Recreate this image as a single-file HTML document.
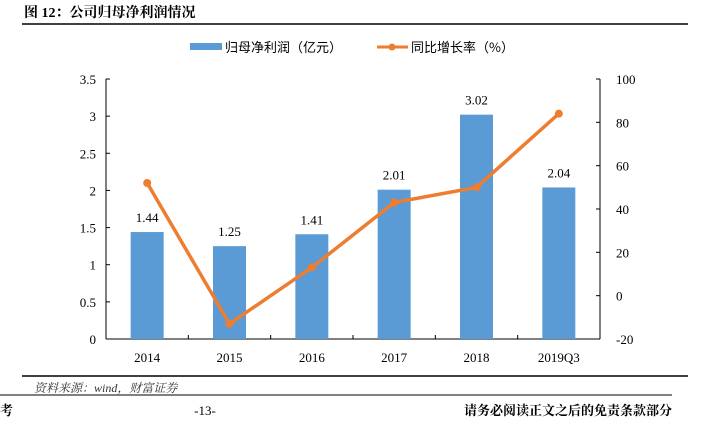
<!DOCTYPE html>
<html><head><meta charset="utf-8"><style>
body{margin:0;width:701px;height:419px;background:#fff;overflow:hidden;font-family:"Liberation Serif","Noto Serif CJK SC",serif}
</style></head><body>
<svg width="701" height="419">
<text x="24" y="17" font-size="14" font-weight="bold" font-family="Liberation Serif, Noto Serif CJK SC, serif">图 12：公司归母净利润情况</text>
<line x1="22" y1="24" x2="688" y2="24" stroke="#000" stroke-width="1.5"/>
<g>
<rect x="190" y="43" width="32" height="7" fill="#5b9bd5"/>
<text x="225" y="52" font-size="13" font-family="Noto Sans CJK SC, sans-serif">归母净利润（亿元）</text>
<line x1="377" y1="47" x2="408" y2="47" stroke="#ed7d31" stroke-width="3"/>
<circle cx="392" cy="47" r="3.5" fill="#ed7d31"/>
<text x="411" y="52" font-size="13" font-family="Noto Sans CJK SC, sans-serif">同比增长率（%）</text>
</g>
<g id="plot"></g>
<line x1="22" y1="376" x2="688" y2="376" stroke="#000" stroke-width="1.5"/>
<text x="34" y="392" font-size="12" font-style="italic" fill="#333">资料来源：wind，财富证券</text>
<line x1="0" y1="395" x2="672" y2="395" stroke="#000" stroke-width="1"/>
<text x="0" y="415" font-size="13" font-weight="bold" font-family="Noto Serif CJK SC, serif">考</text>
<text x="205" y="415" font-size="13" text-anchor="middle">-13-</text>
<text x="672" y="415" font-size="13" font-weight="bold" text-anchor="end" font-family="Noto Serif CJK SC, serif">请务必阅读正文之后的免责条款部分</text>
</svg>
<script>
const categories=["2014","2015","2016","2017","2018","2019Q3"];
const profit=[1.44,1.25,1.41,2.01,3.02,2.04];
const growth=[52,-13,13,43,50,84];
const leftTicks=[0,0.5,1,1.5,2,2.5,3,3.5];
const rightTicks=[-20,0,20,40,60,80,100];
const NS="http://www.w3.org/2000/svg";
const g=document.getElementById('plot');
const X0=106,X1=600,Y0=339,Y1=79;
const yL=v=>Y0-(v/3.5)*(Y0-Y1);
const yR=v=>Y0-((v+20)/120)*(Y0-Y1);
const bw=(X1-X0)/categories.length;
const xC=i=>X0+bw*(i+0.5);
function mk(t,a){const e=document.createElementNS(NS,t);for(const k in a)e.setAttribute(k,a[k]);g.appendChild(e);return e;}
let e;
e=mk('line',{x1:X0,y1:Y1,x2:X0,y2:Y0,stroke:'#000'});


e=mk('line',{x1:X1,y1:Y1,x2:X1,y2:Y0,stroke:'#000'});


e=mk('line',{x1:X0,y1:Y0,x2:X1,y2:Y0,stroke:'#000'});


leftTicks.forEach(v=>{const y=yL(v);mk('line',{x1:X0,y1:y,x2:X0+4,y2:y,stroke:'#000'});
e=mk('text',{x:X0-10,y:y+5,'font-size':13,'text-anchor':'end'});e.textContent=v;

});
rightTicks.forEach(v=>{const y=yR(v);mk('line',{x1:X1-4,y1:y,x2:X1,y2:y,stroke:'#000'});
e=mk('text',{x:X1+16,y:y+5,'font-size':13});e.textContent=v;

});
for(let i=0;i<=categories.length;i++){const x=X0+bw*i;mk('line',{x1:x,y1:Y0,x2:x,y2:Y0-4,stroke:'#000'});}
categories.forEach((c,i)=>{
e=mk('rect',{x:xC(i)-16.5,y:yL(profit[i]),width:33,height:Y0-yL(profit[i]),fill:'#5b9bd5'});


e=mk('text',{x:xC(i),y:yL(profit[i])-10,'font-size':13,'text-anchor':'middle'});e.textContent=profit[i].toFixed(2);


e=mk('text',{x:xC(i),y:Y0+23,'font-size':13,'text-anchor':'middle'});e.textContent=c;


});
e=mk('polyline',{points:growth.map((v,i)=>xC(i)+','+yR(v)).join(' '),fill:'none',stroke:'#ed7d31','stroke-width':3.5});


growth.forEach((v,i)=>{e=mk('circle',{cx:xC(i),cy:yR(v),r:4,fill:'#ed7d31'});

});
</script>
</body></html>
